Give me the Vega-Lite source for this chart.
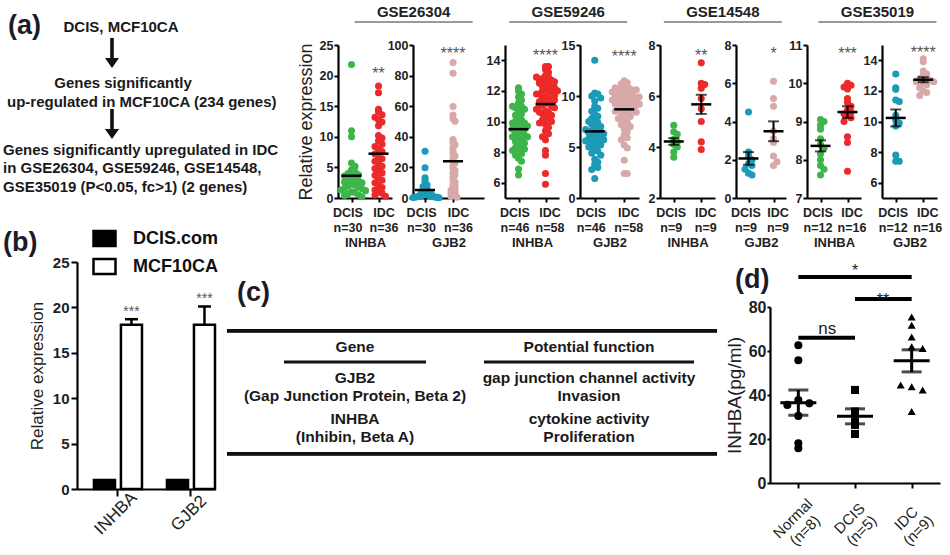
{
"$schema": "https://vega.github.io/schema/vega-lite/v6.json",
"padding": {"left": 3, "top": 2, "right": 2, "bottom": 2},
"background": "white",
"spacing": -24,
"resolve": {"scale": {"color": "independent", "xOffset": "independent", "shape": "independent", "fill": "independent"}},
"datasets": {
"s1": [
{"g":"DCIS","v":21.8},{"g":"DCIS","v":11.0},{"g":"DCIS","v":10.0},{"g":"DCIS","v":5.7},{"g":"DCIS","v":5.2},{"g":"DCIS","v":4.6},{"g":"DCIS","v":4.3},{"g":"DCIS","v":4.0},{"g":"DCIS","v":3.8},{"g":"DCIS","v":3.6},
{"g":"DCIS","v":3.4},{"g":"DCIS","v":3.2},{"g":"DCIS","v":3.0},{"g":"DCIS","v":2.8},{"g":"DCIS","v":2.6},{"g":"DCIS","v":2.5},{"g":"DCIS","v":2.3},{"g":"DCIS","v":2.1},{"g":"DCIS","v":2.0},{"g":"DCIS","v":1.8},
{"g":"DCIS","v":1.6},{"g":"DCIS","v":1.5},{"g":"DCIS","v":1.3},{"g":"DCIS","v":1.2},{"g":"DCIS","v":1.0},{"g":"DCIS","v":0.9},{"g":"DCIS","v":0.7},{"g":"DCIS","v":0.5},{"g":"DCIS","v":0.4},{"g":"DCIS","v":0.2},
{"g":"IDC","v":18.3},{"g":"IDC","v":17.2},{"g":"IDC","v":14.5},{"g":"IDC","v":14.1},{"g":"IDC","v":13.6},{"g":"IDC","v":13.2},{"g":"IDC","v":12.8},{"g":"IDC","v":12.4},{"g":"IDC","v":11.8},{"g":"IDC","v":10.2},
{"g":"IDC","v":9.8},{"g":"IDC","v":9.3},{"g":"IDC","v":8.8},{"g":"IDC","v":8.4},{"g":"IDC","v":8.0},{"g":"IDC","v":7.6},{"g":"IDC","v":7.2},{"g":"IDC","v":6.8},{"g":"IDC","v":6.4},{"g":"IDC","v":6.0},
{"g":"IDC","v":5.6},{"g":"IDC","v":5.2},{"g":"IDC","v":4.8},{"g":"IDC","v":4.5},{"g":"IDC","v":4.1},{"g":"IDC","v":3.7},{"g":"IDC","v":3.3},{"g":"IDC","v":2.9},{"g":"IDC","v":2.5},{"g":"IDC","v":2.1},
{"g":"IDC","v":1.7},{"g":"IDC","v":1.3},{"g":"IDC","v":1.0},{"g":"IDC","v":0.8},{"g":"IDC","v":0.5},{"g":"IDC","v":0.3}
],
"s2": [
{"g":"DCIS","v":30.5},{"g":"DCIS","v":19.8},{"g":"DCIS","v":13.2},{"g":"DCIS","v":11.5},{"g":"DCIS","v":9.8},{"g":"DCIS","v":8.5},{"g":"DCIS","v":7.5},{"g":"DCIS","v":6.8},{"g":"DCIS","v":6.0},{"g":"DCIS","v":5.4},
{"g":"DCIS","v":4.8},{"g":"DCIS","v":4.2},{"g":"DCIS","v":3.8},{"g":"DCIS","v":3.4},{"g":"DCIS","v":3.0},{"g":"DCIS","v":2.7},{"g":"DCIS","v":2.4},{"g":"DCIS","v":2.1},{"g":"DCIS","v":1.9},{"g":"DCIS","v":1.7},
{"g":"DCIS","v":1.5},{"g":"DCIS","v":1.3},{"g":"DCIS","v":1.1},{"g":"DCIS","v":0.9},{"g":"DCIS","v":0.8},{"g":"DCIS","v":0.6},{"g":"DCIS","v":0.5},{"g":"DCIS","v":0.4},{"g":"DCIS","v":0.3},{"g":"DCIS","v":0.2},
{"g":"IDC","v":88.5},{"g":"IDC","v":81.5},{"g":"IDC","v":59.8},{"g":"IDC","v":54.3},{"g":"IDC","v":51.8},{"g":"IDC","v":50.2},{"g":"IDC","v":38.2},{"g":"IDC","v":36.5},{"g":"IDC","v":35.0},{"g":"IDC","v":33.2},
{"g":"IDC","v":31.0},{"g":"IDC","v":29.0},{"g":"IDC","v":27.5},{"g":"IDC","v":26.0},{"g":"IDC","v":24.5},{"g":"IDC","v":22.8},{"g":"IDC","v":21.0},{"g":"IDC","v":19.5},{"g":"IDC","v":18.0},{"g":"IDC","v":16.5},
{"g":"IDC","v":15.0},{"g":"IDC","v":13.5},{"g":"IDC","v":12.0},{"g":"IDC","v":10.5},{"g":"IDC","v":9.0},{"g":"IDC","v":8.0},{"g":"IDC","v":7.0},{"g":"IDC","v":6.0},{"g":"IDC","v":5.0},{"g":"IDC","v":4.2},
{"g":"IDC","v":3.5},{"g":"IDC","v":2.8},{"g":"IDC","v":2.2},{"g":"IDC","v":1.6},{"g":"IDC","v":1.0},{"g":"IDC","v":0.5}
],
"s3": [
{"g":"DCIS","v":12.2},{"g":"DCIS","v":12.0},{"g":"DCIS","v":11.8},{"g":"DCIS","v":11.6},{"g":"DCIS","v":11.4},{"g":"DCIS","v":11.2},{"g":"DCIS","v":11.0},{"g":"DCIS","v":10.9},{"g":"DCIS","v":10.7},{"g":"DCIS","v":10.5},
{"g":"DCIS","v":10.4},{"g":"DCIS","v":10.2},{"g":"DCIS","v":10.1},{"g":"DCIS","v":10.0},{"g":"DCIS","v":9.9},{"g":"DCIS","v":9.8},{"g":"DCIS","v":9.7},{"g":"DCIS","v":9.6},{"g":"DCIS","v":9.5},{"g":"DCIS","v":9.5},
{"g":"DCIS","v":9.4},{"g":"DCIS","v":9.3},{"g":"DCIS","v":9.2},{"g":"DCIS","v":9.1},{"g":"DCIS","v":9.0},{"g":"DCIS","v":9.0},{"g":"DCIS","v":8.9},{"g":"DCIS","v":8.8},{"g":"DCIS","v":8.7},{"g":"DCIS","v":8.6},
{"g":"DCIS","v":8.5},{"g":"DCIS","v":8.4},{"g":"DCIS","v":8.3},{"g":"DCIS","v":8.2},{"g":"DCIS","v":8.1},{"g":"DCIS","v":8.0},{"g":"DCIS","v":7.9},{"g":"DCIS","v":7.8},{"g":"DCIS","v":7.6},{"g":"DCIS","v":7.4},
{"g":"DCIS","v":9.7},{"g":"DCIS","v":9.9},{"g":"DCIS","v":6.9},{"g":"DCIS","v":10.8},{"g":"DCIS","v":11.0},{"g":"DCIS","v":6.5},
{"g":"IDC","v":13.6},{"g":"IDC","v":13.6},{"g":"IDC","v":13.4},{"g":"IDC","v":13.2},{"g":"IDC","v":13.0},{"g":"IDC","v":12.9},{"g":"IDC","v":12.8},{"g":"IDC","v":12.7},{"g":"IDC","v":12.6},{"g":"IDC","v":12.5},
{"g":"IDC","v":12.4},{"g":"IDC","v":12.3},{"g":"IDC","v":12.2},{"g":"IDC","v":12.1},{"g":"IDC","v":12.0},{"g":"IDC","v":12.0},{"g":"IDC","v":11.9},{"g":"IDC","v":11.8},{"g":"IDC","v":11.7},{"g":"IDC","v":11.6},
{"g":"IDC","v":11.5},{"g":"IDC","v":11.5},{"g":"IDC","v":11.4},{"g":"IDC","v":11.3},{"g":"IDC","v":11.2},{"g":"IDC","v":11.2},{"g":"IDC","v":11.1},{"g":"IDC","v":11.0},{"g":"IDC","v":11.0},{"g":"IDC","v":10.9},
{"g":"IDC","v":10.8},{"g":"IDC","v":10.7},{"g":"IDC","v":10.6},{"g":"IDC","v":10.5},{"g":"IDC","v":10.4},{"g":"IDC","v":10.3},{"g":"IDC","v":10.2},{"g":"IDC","v":10.1},{"g":"IDC","v":10.0},{"g":"IDC","v":9.9},
{"g":"IDC","v":9.8},{"g":"IDC","v":9.6},{"g":"IDC","v":9.4},{"g":"IDC","v":9.2},{"g":"IDC","v":9.0},{"g":"IDC","v":8.8},{"g":"IDC","v":8.1},{"g":"IDC","v":7.8},{"g":"IDC","v":6.6},{"g":"IDC","v":5.9},
{"g":"IDC","v":12.5},{"g":"IDC","v":12.2},{"g":"IDC","v":11.8},{"g":"IDC","v":11.4},{"g":"IDC","v":10.6},{"g":"IDC","v":12.6},{"g":"IDC","v":12.0},{"g":"IDC","v":12.9}
],
"s4": [
{"g":"DCIS","v":13.5},{"g":"DCIS","v":10.3},{"g":"DCIS","v":10.2},{"g":"DCIS","v":10.0},{"g":"DCIS","v":9.8},{"g":"DCIS","v":9.5},{"g":"DCIS","v":9.0},{"g":"DCIS","v":8.8},{"g":"DCIS","v":8.5},{"g":"DCIS","v":8.2},
{"g":"DCIS","v":8.0},{"g":"DCIS","v":7.8},{"g":"DCIS","v":7.6},{"g":"DCIS","v":7.4},{"g":"DCIS","v":7.2},{"g":"DCIS","v":7.0},{"g":"DCIS","v":6.9},{"g":"DCIS","v":6.8},{"g":"DCIS","v":6.6},{"g":"DCIS","v":6.5},
{"g":"DCIS","v":6.4},{"g":"DCIS","v":6.3},{"g":"DCIS","v":6.2},{"g":"DCIS","v":6.1},{"g":"DCIS","v":6.0},{"g":"DCIS","v":5.9},{"g":"DCIS","v":5.8},{"g":"DCIS","v":5.7},{"g":"DCIS","v":5.6},{"g":"DCIS","v":5.5},
{"g":"DCIS","v":5.4},{"g":"DCIS","v":5.3},{"g":"DCIS","v":5.2},{"g":"DCIS","v":5.0},{"g":"DCIS","v":4.8},{"g":"DCIS","v":4.6},{"g":"DCIS","v":4.4},{"g":"DCIS","v":4.2},{"g":"DCIS","v":3.8},{"g":"DCIS","v":3.5},
{"g":"DCIS","v":3.3},{"g":"DCIS","v":3.0},{"g":"DCIS","v":2.8},{"g":"DCIS","v":1.9},{"g":"DCIS","v":7.5},{"g":"DCIS","v":6.7},
{"g":"IDC","v":11.5},{"g":"IDC","v":11.3},{"g":"IDC","v":11.2},{"g":"IDC","v":11.0},{"g":"IDC","v":10.9},{"g":"IDC","v":10.8},{"g":"IDC","v":10.7},{"g":"IDC","v":10.6},{"g":"IDC","v":10.5},{"g":"IDC","v":10.4},
{"g":"IDC","v":10.3},{"g":"IDC","v":10.2},{"g":"IDC","v":10.1},{"g":"IDC","v":10.0},{"g":"IDC","v":10.0},{"g":"IDC","v":9.9},{"g":"IDC","v":9.8},{"g":"IDC","v":9.7},{"g":"IDC","v":9.6},{"g":"IDC","v":9.5},
{"g":"IDC","v":9.4},{"g":"IDC","v":9.4},{"g":"IDC","v":9.3},{"g":"IDC","v":9.2},{"g":"IDC","v":9.1},{"g":"IDC","v":9.0},{"g":"IDC","v":9.0},{"g":"IDC","v":8.9},{"g":"IDC","v":8.8},{"g":"IDC","v":8.7},
{"g":"IDC","v":8.6},{"g":"IDC","v":8.5},{"g":"IDC","v":8.4},{"g":"IDC","v":8.3},{"g":"IDC","v":8.2},{"g":"IDC","v":8.1},{"g":"IDC","v":8.0},{"g":"IDC","v":7.8},{"g":"IDC","v":7.6},{"g":"IDC","v":7.4},
{"g":"IDC","v":7.2},{"g":"IDC","v":7.0},{"g":"IDC","v":6.8},{"g":"IDC","v":6.5},{"g":"IDC","v":6.2},{"g":"IDC","v":5.9},{"g":"IDC","v":5.7},{"g":"IDC","v":5.2},{"g":"IDC","v":4.9},{"g":"IDC","v":3.7},
{"g":"IDC","v":2.4},{"g":"IDC","v":2.4},{"g":"IDC","v":10.8},{"g":"IDC","v":10.4},{"g":"IDC","v":9.9},{"g":"IDC","v":9.6},{"g":"IDC","v":9.2},{"g":"IDC","v":10.6}
],
"s5": [
{"g":"DCIS","v":4.85},{"g":"DCIS","v":4.6},{"g":"DCIS","v":4.5},{"g":"DCIS","v":4.3},{"g":"DCIS","v":4.2},{"g":"DCIS","v":4.1},{"g":"DCIS","v":4.0},{"g":"DCIS","v":3.8},{"g":"DCIS","v":3.6},
{"g":"IDC","v":7.3},{"g":"IDC","v":6.5},{"g":"IDC","v":6.45},{"g":"IDC","v":6.3},{"g":"IDC","v":5.9},{"g":"IDC","v":5.5},{"g":"IDC","v":5.0},{"g":"IDC","v":4.2},{"g":"IDC","v":3.9}
],
"s6": [
{"g":"DCIS","v":4.5},{"g":"DCIS","v":2.4},{"g":"DCIS","v":2.2},{"g":"DCIS","v":2.0},{"g":"DCIS","v":1.8},{"g":"DCIS","v":1.7},{"g":"DCIS","v":1.5},{"g":"DCIS","v":1.3},{"g":"DCIS","v":1.2},
{"g":"IDC","v":6.1},{"g":"IDC","v":5.2},{"g":"IDC","v":4.8},{"g":"IDC","v":3.5},{"g":"IDC","v":3.1},{"g":"IDC","v":2.9},{"g":"IDC","v":2.2},{"g":"IDC","v":1.9},{"g":"IDC","v":1.7}
],
"s7": [
{"g":"DCIS","v":9.05},{"g":"DCIS","v":9.0},{"g":"DCIS","v":8.9},{"g":"DCIS","v":8.8},{"g":"DCIS","v":8.55},{"g":"DCIS","v":8.4},{"g":"DCIS","v":8.3},{"g":"DCIS","v":8.15},{"g":"DCIS","v":8.0},{"g":"DCIS","v":7.85},{"g":"DCIS","v":7.75},{"g":"DCIS","v":7.6},
{"g":"IDC","v":10.0},{"g":"IDC","v":9.95},{"g":"IDC","v":9.9},{"g":"IDC","v":9.85},{"g":"IDC","v":9.6},{"g":"IDC","v":9.5},{"g":"IDC","v":9.4},{"g":"IDC","v":9.3},{"g":"IDC","v":9.25},{"g":"IDC","v":9.2},{"g":"IDC","v":9.15},{"g":"IDC","v":9.1},{"g":"IDC","v":9.0},{"g":"IDC","v":8.6},{"g":"IDC","v":8.45},{"g":"IDC","v":7.7}
],
"s8": [
{"g":"DCIS","v":13.1},{"g":"DCIS","v":12.2},{"g":"DCIS","v":12.1},{"g":"DCIS","v":11.4},{"g":"DCIS","v":11.3},{"g":"DCIS","v":10.4},{"g":"DCIS","v":10.1},{"g":"DCIS","v":9.9},{"g":"DCIS","v":9.7},{"g":"DCIS","v":7.8},{"g":"DCIS","v":7.4},{"g":"DCIS","v":7.4},
{"g":"IDC","v":14.1},{"g":"IDC","v":13.9},{"g":"IDC","v":13.3},{"g":"IDC","v":13.1},{"g":"IDC","v":13.0},{"g":"IDC","v":12.9},{"g":"IDC","v":12.8},{"g":"IDC","v":12.7},{"g":"IDC","v":12.6},{"g":"IDC","v":12.6},{"g":"IDC","v":12.5},{"g":"IDC","v":12.4},{"g":"IDC","v":12.2},{"g":"IDC","v":12.0},{"g":"IDC","v":11.9},{"g":"IDC","v":11.7}
],
"sig": [
{"p":"s1","g":"IDC","s":"**"},{"p":"s2","g":"IDC","s":"****"},{"p":"s3","g":"IDC","s":"****"},{"p":"s4","g":"IDC","s":"****"},
{"p":"s5","g":"IDC","s":"**"},{"p":"s6","g":"IDC","s":"*"},{"p":"s7","g":"IDC","s":"***"},{"p":"s8","g":"IDC","s":"****"}
],
"d": [
{"c":"Normal","v":62.6},{"c":"Normal","v":55.8},{"c":"Normal","v":37.7},{"c":"Normal","v":36.2},{"c":"Normal","v":35.5},{"c":"Normal","v":30.5},{"c":"Normal","v":18.1},{"c":"Normal","v":15.8},
{"c":"DCIS","v":42.3},{"c":"DCIS","v":32.5},{"c":"DCIS","v":28.0},{"c":"DCIS","v":26.4},{"c":"DCIS","v":22.3},
{"c":"IDC","v":75.5},{"c":"IDC","v":71.7},{"c":"IDC","v":66.4},{"c":"IDC","v":61.9},{"c":"IDC","v":61.1},{"c":"IDC","v":43.8},{"c":"IDC","v":42.3},{"c":"IDC","v":44.5},{"c":"IDC","v":32.5}
],
"dsig": [
{"a":"Normal","b":"DCIS","lvl":66,"lab":"ns"},
{"a":"DCIS","b":"IDC","lvl":83.6,"lab":"**"},
{"a":"Normal","b":"IDC","lvl":93.6,"lab":"*"}
]
},
"vconcat": [
{
"bounds": "flush", "spacing": 191,
"resolve": {"scale": {"color": "independent", "xOffset": "independent", "shape": "independent", "fill": "independent"}},
"hconcat": [
{
"width": 70, "height": 173,
"data": {"values": [
{"step": 1, "kind": "p", "t": "(a)"},
{"step": 1, "kind": "c1", "t": "DCIS, MCF10CA"},
{"step": 1.5, "kind": "arr", "t": ""},
{"step": 2, "kind": "c2", "t": "Genes significantly"},
{"step": 2, "kind": "l2", "t": "up-regulated in MCF10CA (234 genes)"},
{"step": 2.5, "kind": "arr", "t": ""},
{"step": 3, "kind": "l3", "t": "Genes significantly upregulated in IDC\nin GSE26304, GSE59246, GSE14548,\nGSE35019 (P<0.05, fc>1) (2 genes)"}
]},
"encoding": {"y": {"field": "step", "type": "ordinal", "scale": {"type": "point", "padding": 0.437}, "axis": null}},
"layer": [
{"transform": [{"filter": "datum.kind == 'p'"}], "mark": {"type": "text", "align": "left", "dx": -104, "dy": 8.5, "fontSize": 27, "fontWeight": "bold", "color": "#1c1c28"}, "encoding": {"text": {"field": "t"}}},
{"transform": [{"filter": "datum.kind == 'c1'"}], "mark": {"type": "text", "align": "center", "dx": 9, "dy": 9.5, "fontSize": 15, "fontWeight": "bold", "color": "#1a1a1a"}, "encoding": {"text": {"field": "t"}}},
{"transform": [{"filter": "datum.kind == 'c2'"}], "mark": {"type": "text", "align": "center", "dx": 11, "dy": -5.5, "fontSize": 15, "fontWeight": "bold", "color": "#1a1a1a"}, "encoding": {"text": {"field": "t"}}},
{"transform": [{"filter": "datum.kind == 'l2'"}], "mark": {"type": "text", "align": "left", "dx": -105, "dy": 13.5, "fontSize": 15, "fontWeight": "bold", "color": "#1a1a1a"}, "encoding": {"text": {"field": "t"}}},
{"transform": [{"filter": "datum.kind == 'l3'"}], "mark": {"type": "text", "align": "left", "dx": -109, "dy": -9.5, "fontSize": 15, "fontWeight": "bold", "lineBreak": "\n", "lineHeight": 18.5, "color": "#1a1a1a"}, "encoding": {"text": {"field": "t"}}},
{"transform": [{"filter": "datum.kind == 'arr'"}], "mark": {"type": "point", "filled": true, "opacity": 1, "color": "#111", "size": 900, "shape": "M-0.12,-1H0.12V0.33H0.47L0,1L-0.47,0.33H-0.12Z"}}
]
},
{
"bounds": "flush", "spacing": 23,
"resolve": {"scale": {"color": "independent", "xOffset": "independent"}},
"vconcat": [
{
"width": 598.4, "height": 20,
"data": {"values": [{"gse": "GSE26304"}, {"gse": "GSE59246"}, {"gse": "GSE14548"}, {"gse": "GSE35019"}]},
"encoding": {"x": {"field": "gse", "type": "nominal", "sort": null, "scale": {"paddingInner": 0.237, "paddingOuter": 0.0538, "align": 1}, "axis": null}},
"layer": [
{"mark": {"type": "text", "fontSize": 15, "fontWeight": "bold", "color": "#222"}, "encoding": {"text": {"field": "gse"}}},
{"mark": {"type": "tick", "orient": "horizontal", "size": 118, "thickness": 1.5, "opacity": 1, "color": "#777"}, "encoding": {"y": {"datum": 0, "type": "quantitative", "scale": {"domain": [0, 1]}, "axis": null}}}
]
},
{
"bounds": "flush", "spacing": 21,
"resolve": {"scale": {"color": "independent", "xOffset": "independent"}},
"hconcat": [
{
"width": 54, "height": 153, "data": {"name": "s1"},
"encoding": {"x": {"field": "g", "type": "nominal", "scale": {"type": "point", "domain": ["DCIS", "IDC"], "padding": 0.5}, "axis": {"title": "INHBA", "labelAngle": 0, "labelPadding": 4, "labelOffset": {"condition": {"test": "datum.value == 'DCIS'", "value": -4}, "value": 5}, "labelExpr": "[datum.label, datum.label == 'DCIS' ? 'n=30' : 'n=36']"}}},
"layer": [
{"transform": [{"bin": {"step": 1.2}, "field": "v", "as": "b"}, {"window": [{"op": "row_number", "as": "k"}], "groupby": ["g", "b"]}],
"mark": {"type": "circle", "size": 50, "opacity": 1},
"encoding": {
"y": {"field": "v", "type": "quantitative", "title": "Relative expression", "scale": {"domain": [0, 25], "nice": false, "zero": false}, "axis": {"values": [0, 5, 10, 15, 20, 25], "labelOverlap": false, "titleFontSize": 18, "titleFontWeight": "normal", "titlePadding": 4}},
"xOffset": {"field": "k", "type": "ordinal", "scale": {"type": "point", "padding": 0, "domain": [21,19,17,15,13,11,9,7,5,3,1,2,4,6,8,10,12,14,16,18,20], "range": [-35, 35]}},
"color": {"field": "g", "type": "nominal", "scale": {"domain": ["DCIS", "IDC"], "range": ["#3db54a", "#ec2a2a"]}, "legend": null}}},
{"mark": {"type": "tick", "size": 20, "thickness": 2.5, "opacity": 1, "color": "#000"}, "encoding": {"y": {"aggregate": "mean", "field": "v", "type": "quantitative", "title": "Relative expression", "axis": {"values": [0, 5, 10, 15, 20, 25], "labelOverlap": false, "titleFontSize": 18, "titleFontWeight": "normal", "titlePadding": 4}}}},
{"data": {"name": "sig"}, "transform": [{"filter": "datum.p == 's1'"}], "mark": {"type": "text", "fontSize": 16, "color": "#555", "dy": 4}, "encoding": {"y": {"datum": 20.9, "type": "quantitative", "title": "Relative expression", "axis": {"values": [0, 5, 10, 15, 20, 25], "labelOverlap": false, "titleFontSize": 18, "titleFontWeight": "normal", "titlePadding": 4}}, "text": {"field": "s"}}}
]
},
{
"width": 71, "height": 153, "data": {"name": "s2"},
"encoding": {"x": {"field": "g", "type": "nominal", "scale": {"type": "point", "domain": ["DCIS", "IDC"], "padding": 0.768, "align": 0.28}, "axis": {"title": "GJB2", "labelAngle": 0, "labelPadding": 4, "labelOffset": {"condition": {"test": "datum.value == 'DCIS'", "value": -4}, "value": 5}, "labelExpr": "[datum.label, datum.label == 'DCIS' ? 'n=30' : 'n=36']"}}},
"layer": [
{"transform": [{"bin": {"step": 2.5}, "field": "v", "as": "b"}, {"window": [{"op": "row_number", "as": "k"}], "groupby": ["g", "b"]}],
"mark": {"type": "circle", "size": 50, "opacity": 1},
"encoding": {
"y": {"field": "v", "type": "quantitative", "title": null, "scale": {"domain": [0, 100], "nice": false, "zero": false}, "axis": {"values": [0, 20, 40, 60, 80, 100], "labelOverlap": false}},
"xOffset": {"field": "k", "type": "ordinal", "scale": {"type": "point", "padding": 0, "domain": [21,19,17,15,13,11,9,7,5,3,1,2,4,6,8,10,12,14,16,18,20], "range": [-20, 20]}},
"color": {"field": "g", "type": "nominal", "scale": {"domain": ["DCIS", "IDC"], "range": ["#1c9ab6", "#d8a9a9"]}, "legend": null}}},
{"mark": {"type": "tick", "size": 20, "thickness": 2.5, "opacity": 1, "color": "#000"}, "encoding": {"y": {"aggregate": "mean", "field": "v", "type": "quantitative", "title": null, "axis": {"values": [0, 20, 40, 60, 80, 100], "labelOverlap": false}}}},
{"data": {"name": "sig"}, "transform": [{"filter": "datum.p == 's2'"}], "mark": {"type": "text", "fontSize": 16, "color": "#555", "dy": 4}, "encoding": {"y": {"datum": 96.7, "type": "quantitative", "title": null, "axis": {"values": [0, 20, 40, 60, 80, 100], "labelOverlap": false}}, "text": {"field": "s"}}}
]
},
{
"width": 54, "height": 153, "data": {"name": "s3"},
"encoding": {"x": {"field": "g", "type": "nominal", "scale": {"type": "point", "domain": ["DCIS", "IDC"], "padding": 0.5}, "axis": {"title": "INHBA", "labelAngle": 0, "labelPadding": 4, "labelOffset": {"condition": {"test": "datum.value == 'DCIS'", "value": -4}, "value": 4}, "labelExpr": "[datum.label, datum.label == 'DCIS' ? 'n=46' : 'n=58']"}}},
"layer": [
{"transform": [{"bin": {"step": 0.45}, "field": "v", "as": "b"}, {"window": [{"op": "row_number", "as": "k"}], "groupby": ["g", "b"]}],
"mark": {"type": "circle", "size": 50, "opacity": 1},
"encoding": {
"y": {"field": "v", "type": "quantitative", "title": null, "scale": {"domain": [5, 15], "nice": false, "zero": false}, "axis": {"values": [6, 8, 10, 12, 14], "labelOverlap": false}},
"xOffset": {"field": "k", "type": "ordinal", "scale": {"type": "point", "padding": 0, "domain": [21,19,17,15,13,11,9,7,5,3,1,2,4,6,8,10,12,14,16,18,20], "range": [-30, 30]}},
"color": {"field": "g", "type": "nominal", "scale": {"domain": ["DCIS", "IDC"], "range": ["#3db54a", "#ec2a2a"]}, "legend": null}}},
{"mark": {"type": "tick", "size": 20, "thickness": 2.5, "opacity": 1, "color": "#000"}, "encoding": {"y": {"aggregate": "mean", "field": "v", "type": "quantitative", "title": null, "axis": {"values": [6, 8, 10, 12, 14], "labelOverlap": false}}}},
{"data": {"name": "sig"}, "transform": [{"filter": "datum.p == 's3'"}], "mark": {"type": "text", "fontSize": 16, "color": "#555", "dy": 4}, "encoding": {"y": {"datum": 14.54, "type": "quantitative", "title": null, "axis": {"values": [6, 8, 10, 12, 14], "labelOverlap": false}}, "text": {"field": "s"}}}
]
},
{
"width": 59, "height": 153, "data": {"name": "s4"},
"encoding": {"x": {"field": "g", "type": "nominal", "scale": {"type": "point", "domain": ["DCIS", "IDC"], "padding": 0.5}, "axis": {"title": "GJB2", "labelAngle": 0, "labelPadding": 4, "labelOffset": {"condition": {"test": "datum.value == 'DCIS'", "value": -4}, "value": 4}, "labelExpr": "[datum.label, datum.label == 'DCIS' ? 'n=46' : 'n=58']"}}},
"layer": [
{"transform": [{"bin": {"step": 0.7}, "field": "v", "as": "b"}, {"window": [{"op": "row_number", "as": "k"}], "groupby": ["g", "b"]}],
"mark": {"type": "circle", "size": 50, "opacity": 1},
"encoding": {
"y": {"field": "v", "type": "quantitative", "title": null, "scale": {"domain": [0, 15], "nice": false, "zero": false}, "axis": {"values": [0, 5, 10, 15], "labelOverlap": false}},
"xOffset": {"field": "k", "type": "ordinal", "scale": {"type": "point", "padding": 0, "domain": [21,19,17,15,13,11,9,7,5,3,1,2,4,6,8,10,12,14,16,18,20], "range": [-30, 30]}},
"color": {"field": "g", "type": "nominal", "scale": {"domain": ["DCIS", "IDC"], "range": ["#1c9ab6", "#d8a9a9"]}, "legend": null}}},
{"mark": {"type": "tick", "size": 20, "thickness": 2.5, "opacity": 1, "color": "#000"}, "encoding": {"y": {"aggregate": "mean", "field": "v", "type": "quantitative", "title": null, "axis": {"values": [0, 5, 10, 15], "labelOverlap": false}}}},
{"data": {"name": "sig"}, "transform": [{"filter": "datum.p == 's4'"}], "mark": {"type": "text", "fontSize": 16, "color": "#555", "dy": 4}, "encoding": {"y": {"datum": 14.2, "type": "quantitative", "title": null, "axis": {"values": [0, 5, 10, 15], "labelOverlap": false}}, "text": {"field": "s"}}}
]
},
{
"width": 55, "height": 153, "data": {"name": "s5"},
"encoding": {"x": {"field": "g", "type": "nominal", "scale": {"type": "point", "domain": ["DCIS", "IDC"], "padding": 0.5}, "axis": {"title": "INHBA", "labelAngle": 0, "labelPadding": 4, "labelOffset": {"condition": {"test": "datum.value == 'DCIS'", "value": -3}, "value": 4}, "labelExpr": "[datum.label, 'n=9']"}}},
"layer": [
{"transform": [{"bin": {"step": 0.28}, "field": "v", "as": "b"}, {"window": [{"op": "row_number", "as": "k"}], "groupby": ["g", "b"]}],
"mark": {"type": "circle", "size": 50, "opacity": 1},
"encoding": {
"y": {"field": "v", "type": "quantitative", "title": null, "scale": {"domain": [2, 8], "nice": false, "zero": false}, "axis": {"values": [2, 4, 6, 8], "labelOverlap": false}},
"xOffset": {"field": "k", "type": "ordinal", "scale": {"type": "point", "padding": 0, "domain": [21,19,17,15,13,11,9,7,5,3,1,2,4,6,8,10,12,14,16,18,20], "range": [-35, 35]}},
"color": {"field": "g", "type": "nominal", "scale": {"domain": ["DCIS", "IDC"], "range": ["#3db54a", "#ec2a2a"]}, "legend": null}}},
{"mark": {"type": "tick", "size": 20, "thickness": 2.5, "opacity": 1, "color": "#000"}, "encoding": {"y": {"aggregate": "mean", "field": "v", "type": "quantitative", "title": null, "axis": {"values": [2, 4, 6, 8], "labelOverlap": false}}}},
{"mark": {"type": "errorbar", "extent": "stderr", "ticks": {"size": 11}, "thickness": 2, "color": "#000"}, "encoding": {"y": {"field": "v", "type": "quantitative", "title": null, "axis": {"values": [2, 4, 6, 8], "labelOverlap": false}}}},
{"data": {"name": "sig"}, "transform": [{"filter": "datum.p == 's5'"}], "mark": {"type": "text", "fontSize": 16, "color": "#555", "dy": 4}, "encoding": {"y": {"datum": 7.73, "type": "quantitative", "title": null, "axis": {"values": [2, 4, 6, 8], "labelOverlap": false}}, "text": {"field": "s"}}}
]
},
{
"width": 50, "height": 153, "data": {"name": "s6"},
"encoding": {"x": {"field": "g", "type": "nominal", "scale": {"type": "point", "domain": ["DCIS", "IDC"], "padding": 0.5}, "axis": {"title": "GJB2", "labelAngle": 0, "labelPadding": 4, "labelOffset": {"condition": {"test": "datum.value == 'DCIS'", "value": -3}, "value": 4}, "labelExpr": "[datum.label, 'n=9']"}}},
"layer": [
{"transform": [{"bin": {"step": 0.37}, "field": "v", "as": "b"}, {"window": [{"op": "row_number", "as": "k"}], "groupby": ["g", "b"]}],
"mark": {"type": "circle", "size": 50, "opacity": 1},
"encoding": {
"y": {"field": "v", "type": "quantitative", "title": null, "scale": {"domain": [0, 8], "nice": false, "zero": false}, "axis": {"values": [0, 2, 4, 6, 8], "labelOverlap": false}},
"xOffset": {"field": "k", "type": "ordinal", "scale": {"type": "point", "padding": 0, "domain": [21,19,17,15,13,11,9,7,5,3,1,2,4,6,8,10,12,14,16,18,20], "range": [-35, 35]}},
"color": {"field": "g", "type": "nominal", "scale": {"domain": ["DCIS", "IDC"], "range": ["#1c9ab6", "#d8a9a9"]}, "legend": null}}},
{"mark": {"type": "tick", "size": 20, "thickness": 2.5, "opacity": 1, "color": "#000"}, "encoding": {"y": {"aggregate": "mean", "field": "v", "type": "quantitative", "title": null, "axis": {"values": [0, 2, 4, 6, 8], "labelOverlap": false}}}},
{"mark": {"type": "errorbar", "extent": "stderr", "ticks": {"size": 11}, "thickness": 2, "color": "#000"}, "encoding": {"y": {"field": "v", "type": "quantitative", "title": null, "axis": {"values": [0, 2, 4, 6, 8], "labelOverlap": false}}}},
{"data": {"name": "sig"}, "transform": [{"filter": "datum.p == 's6'"}], "mark": {"type": "text", "fontSize": 16, "color": "#555", "dy": 4}, "encoding": {"y": {"datum": 7.74, "type": "quantitative", "title": null, "axis": {"values": [0, 2, 4, 6, 8], "labelOverlap": false}}, "text": {"field": "s"}}}
]
},
{
"width": 54, "height": 153, "data": {"name": "s7"},
"encoding": {"x": {"field": "g", "type": "nominal", "scale": {"type": "point", "domain": ["DCIS", "IDC"], "padding": 0.5}, "axis": {"title": "INHBA", "labelAngle": 0, "labelPadding": 4, "labelOffset": {"condition": {"test": "datum.value == 'DCIS'", "value": -3}, "value": 4}, "labelExpr": "[datum.label, datum.label == 'DCIS' ? 'n=12' : 'n=16']"}}},
"layer": [
{"transform": [{"bin": {"step": 0.18}, "field": "v", "as": "b"}, {"window": [{"op": "row_number", "as": "k"}], "groupby": ["g", "b"]}],
"mark": {"type": "circle", "size": 50, "opacity": 1},
"encoding": {
"y": {"field": "v", "type": "quantitative", "title": null, "scale": {"domain": [7, 11], "nice": false, "zero": false}, "axis": {"values": [7, 8, 9, 10, 11], "labelOverlap": false}},
"xOffset": {"field": "k", "type": "ordinal", "scale": {"type": "point", "padding": 0, "domain": [21,19,17,15,13,11,9,7,5,3,1,2,4,6,8,10,12,14,16,18,20], "range": [-35, 35]}},
"color": {"field": "g", "type": "nominal", "scale": {"domain": ["DCIS", "IDC"], "range": ["#3db54a", "#ec2a2a"]}, "legend": null}}},
{"mark": {"type": "tick", "size": 20, "thickness": 2.5, "opacity": 1, "color": "#000"}, "encoding": {"y": {"aggregate": "mean", "field": "v", "type": "quantitative", "title": null, "axis": {"values": [7, 8, 9, 10, 11], "labelOverlap": false}}}},
{"mark": {"type": "errorbar", "extent": "stderr", "ticks": {"size": 11}, "thickness": 2, "color": "#000"}, "encoding": {"y": {"field": "v", "type": "quantitative", "title": null, "axis": {"values": [7, 8, 9, 10, 11], "labelOverlap": false}}}},
{"data": {"name": "sig"}, "transform": [{"filter": "datum.p == 's7'"}], "mark": {"type": "text", "fontSize": 16, "color": "#555", "dy": 4}, "encoding": {"y": {"datum": 10.87, "type": "quantitative", "title": null, "axis": {"values": [7, 8, 9, 10, 11], "labelOverlap": false}}, "text": {"field": "s"}}}
]
},
{
"width": 55, "height": 153, "data": {"name": "s8"},
"encoding": {"x": {"field": "g", "type": "nominal", "scale": {"type": "point", "domain": ["DCIS", "IDC"], "padding": 0.5}, "axis": {"title": "GJB2", "labelAngle": 0, "labelPadding": 4, "labelOffset": {"condition": {"test": "datum.value == 'DCIS'", "value": -3}, "value": 4}, "labelExpr": "[datum.label, datum.label == 'DCIS' ? 'n=12' : 'n=16']"}}},
"layer": [
{"transform": [{"bin": {"step": 0.45}, "field": "v", "as": "b"}, {"window": [{"op": "row_number", "as": "k"}], "groupby": ["g", "b"]}],
"mark": {"type": "circle", "size": 50, "opacity": 1},
"encoding": {
"y": {"field": "v", "type": "quantitative", "title": null, "scale": {"domain": [5, 15], "nice": false, "zero": false}, "axis": {"values": [6, 8, 10, 12, 14], "labelOverlap": false}},
"xOffset": {"field": "k", "type": "ordinal", "scale": {"type": "point", "padding": 0, "domain": [21,19,17,15,13,11,9,7,5,3,1,2,4,6,8,10,12,14,16,18,20], "range": [-35, 35]}},
"color": {"field": "g", "type": "nominal", "scale": {"domain": ["DCIS", "IDC"], "range": ["#1c9ab6", "#d8a9a9"]}, "legend": null}}},
{"mark": {"type": "tick", "size": 20, "thickness": 2.5, "opacity": 1, "color": "#000"}, "encoding": {"y": {"aggregate": "mean", "field": "v", "type": "quantitative", "title": null, "axis": {"values": [6, 8, 10, 12, 14], "labelOverlap": false}}}},
{"mark": {"type": "errorbar", "extent": "stderr", "ticks": {"size": 11}, "thickness": 2, "color": "#000"}, "encoding": {"y": {"field": "v", "type": "quantitative", "title": null, "axis": {"values": [6, 8, 10, 12, 14], "labelOverlap": false}}}},
{"data": {"name": "sig"}, "transform": [{"filter": "datum.p == 's8'"}], "mark": {"type": "text", "fontSize": 16, "color": "#555", "dy": 4}, "encoding": {"y": {"datum": 14.74, "type": "quantitative", "title": null, "axis": {"values": [6, 8, 10, 12, 14], "labelOverlap": false}}, "text": {"field": "s"}}}
]
}
]
}
]
}
]
},
{
"bounds": "flush", "spacing": 12,
"resolve": {"scale": {"color": "independent", "xOffset": "independent", "shape": "independent", "fill": "independent"}},
"hconcat": [
{
"width": 138, "height": 227,
"title": {"text": "(b)", "anchor": "start", "frame": "group", "dx": -74, "offset": -31},
"data": {"values": [
{"gene": "INHBA", "cell": "DCIS.com", "v": 1.0},
{"gene": "INHBA", "cell": "MCF10CA", "v": 18.1, "hi": 18.7, "sig": "***"},
{"gene": "GJB2", "cell": "DCIS.com", "v": 1.0},
{"gene": "GJB2", "cell": "MCF10CA", "v": 18.1, "hi": 20.1, "sig": "***"}
]},
"encoding": {
"x": {"field": "gene", "type": "nominal", "sort": ["INHBA", "GJB2"], "scale": {"paddingInner": 0.342, "paddingOuter": 0.116, "align": 1}, "axis": {"title": null, "labelAngle": -45, "labelAlign": "center", "labelBaseline": "middle", "labelFontSize": 17, "labelFontWeight": "normal", "labelOffset": -2, "labelPadding": 17, "tickSize": 7}},
"xOffset": {"field": "cell", "type": "nominal", "sort": ["DCIS.com", "MCF10CA"], "scale": {"paddingInner": 0.22, "paddingOuter": 0}}
},
"layer": [
{"mark": {"type": "bar", "stroke": "#000", "strokeWidth": 2.5},
"encoding": {
"y": {"field": "v", "type": "quantitative", "title": "Relative expression", "scale": {"domain": [0, 25], "nice": false}, "axis": {"values": [0, 5, 10, 15, 20, 25], "labelOverlap": false, "titleFontSize": 17, "titleFontWeight": "normal", "titlePadding": 6, "labelFontSize": 15, "tickSize": 6, "labelPadding": 2}},
"fill": {"field": "cell", "type": "nominal", "scale": {"domain": ["DCIS.com", "MCF10CA"], "range": ["#000000", "#ffffff"]},
"legend": {"orient": "none", "legendX": 15, "legendY": -36, "title": null, "symbolType": "M-1,-0.68H1V0.68H-1Z", "symbolSize": 484, "symbolStrokeColor": "#000", "symbolStrokeWidth": 2.5, "labelFontSize": 18, "labelFontWeight": "bold", "labelColor": "#111", "rowPadding": 3, "labelOffset": 16}}}},
{"transform": [{"filter": "datum.hi"}], "mark": {"type": "rule", "strokeWidth": 2.5, "color": "#000"}, "encoding": {"y": {"field": "v", "type": "quantitative", "title": "Relative expression"}, "y2": {"field": "hi"}}},
{"transform": [{"filter": "datum.hi"}], "mark": {"type": "tick", "size": 13, "thickness": 2.5, "opacity": 1, "color": "#000"}, "encoding": {"y": {"field": "hi", "type": "quantitative", "title": "Relative expression"}}},
{"transform": [{"filter": "datum.hi"}], "mark": {"type": "text", "fontSize": 14, "color": "#555", "baseline": "alphabetic", "dy": -3}, "encoding": {"y": {"field": "hi", "type": "quantitative", "title": "Relative expression"}, "text": {"field": "sig"}}}
]
},
{
"bounds": "flush", "spacing": 53,
"resolve": {"scale": {"color": "independent", "xOffset": "independent", "shape": "independent", "fill": "independent"}},
"hconcat": [
{
"width": 490, "height": 195,
"title": {"text": "(c)", "anchor": "start", "frame": "group", "dx": 10, "offset": -45},
"data": {"values": [
{"col": "Gene", "r": 1, "t": "Gene"},
{"col": "Potential function", "r": 1, "t": "Potential function"},
{"col": "Gene", "r": 2, "t": "GJB2\n(Gap Junction Protein, Beta 2)"},
{"col": "Potential function", "r": 2, "t": "gap junction channel activity\nInvasion"},
{"col": "Gene", "r": 3, "t": "INHBA\n(Inhibin, Beta A)"},
{"col": "Potential function", "r": 3, "t": "cytokine activity\nProliferation"}
]},
"layer": [
{"transform": [{"filter": "datum.r == 1"}], "mark": {"type": "text", "fontSize": 15.5, "fontWeight": "bold", "color": "#1a1a1a"},
"encoding": {
"x": {"field": "col", "type": "nominal", "scale": {"type": "point", "domain": ["Gene", "Potential function"], "padding": 0.547}, "axis": null},
"y": {"field": "r", "type": "quantitative", "scale": {"domain": [-1.07, 3.69], "reverse": true, "nice": false, "zero": false}, "axis": null},
"text": {"field": "t"}}},
{"transform": [{"filter": "datum.r > 1"}], "mark": {"type": "text", "fontSize": 15.5, "fontWeight": "bold", "lineBreak": "\n", "lineHeight": 18, "dy": -10, "color": "#1a1a1a"},
"encoding": {
"x": {"field": "col", "type": "nominal"},
"y": {"field": "r", "type": "quantitative"},
"text": {"field": "t"}}},
{"mark": {"type": "rule", "strokeWidth": 3, "color": "#111"}, "encoding": {"y": {"datum": 0.61, "type": "quantitative"}}},
{"mark": {"type": "rule", "strokeWidth": 3, "color": "#111"}, "encoding": {"y": {"datum": 3.61, "type": "quantitative"}}},
{"transform": [{"filter": "datum.r == 1 && datum.col == 'Gene'"}], "mark": {"type": "tick", "orient": "horizontal", "size": 142, "thickness": 3, "opacity": 1, "color": "#111"},
"encoding": {"x": {"field": "col", "type": "nominal"}, "y": {"datum": 1.37, "type": "quantitative"}}},
{"transform": [{"filter": "datum.r == 1 && datum.col == 'Potential function'"}], "mark": {"type": "tick", "orient": "horizontal", "size": 210, "thickness": 3, "opacity": 1, "color": "#111"},
"encoding": {"x": {"field": "col", "type": "nominal"}, "y": {"datum": 1.37, "type": "quantitative"}}}
]
},
{
"bounds": "flush", "spacing": 0,
"resolve": {"scale": {"color": "independent", "xOffset": "independent", "shape": "independent"}},
"vconcat": [
{
"width": 170, "height": 45,
"title": {"text": "(d)", "anchor": "start", "frame": "group", "dx": -35, "offset": -32},
"data": {"name": "dsig"},
"transform": [{"filter": "datum.lvl > 80"}],
"layer": [
{"mark": {"type": "rule", "strokeWidth": 4, "color": "#000"},
"encoding": {"x": {"field": "a", "type": "nominal", "scale": {"type": "point", "domain": ["Normal", "DCIS", "IDC"], "padding": 0.5}, "axis": null}, "x2": {"field": "b"},
"y": {"field": "lvl", "type": "quantitative", "scale": {"domain": [80, 100.45], "nice": false, "zero": false}, "axis": null}}},
{"transform": [{"filter": "datum.lab == '**'"}], "mark": {"type": "text", "fontSize": 16, "color": "#222", "baseline": "alphabetic", "dx": 28, "dy": 6},
"encoding": {"x": {"field": "a", "type": "nominal"}, "y": {"field": "lvl", "type": "quantitative"}, "text": {"field": "lab"}}},
{"transform": [{"filter": "datum.lab == '*'"}], "mark": {"type": "text", "fontSize": 16, "color": "#222", "baseline": "alphabetic", "dy": -1},
"encoding": {"x": {"datum": "DCIS", "type": "nominal"}, "y": {"field": "lvl", "type": "quantitative"}, "text": {"field": "lab"}}}
]
},
{
"width": 170, "height": 176,
"data": {"name": "d"},
"encoding": {"x": {"field": "c", "type": "nominal", "scale": {"type": "point", "domain": ["Normal", "DCIS", "IDC"], "padding": 0.5},
"axis": {"title": null, "labelAngle": -45, "labelAlign": "center", "labelBaseline": "middle", "labelFontSize": 15, "labelFontWeight": "normal", "labelLineHeight": 17, "labelOffset": -6, "labelPadding": 30, "tickSize": 5,
"labelExpr": "datum.label == 'Normal' ? ['Normal', '(n=8)'] : datum.label == 'DCIS' ? ['DCIS', '(n=5)'] : ['IDC', '(n=9)']"}}},
"layer": [
{"transform": [{"bin": {"step": 3.5}, "field": "v", "as": "b"}, {"window": [{"op": "row_number", "as": "k"}], "groupby": ["c", "b"]}],
"mark": {"type": "point", "filled": true, "size": 65, "opacity": 1, "color": "#000"},
"encoding": {
"y": {"field": "v", "type": "quantitative", "title": "INHBA(pg/ml)", "scale": {"domain": [0, 80], "nice": false}, "axis": {"values": [0, 20, 40, 60, 80], "labelOverlap": false, "titleFontSize": 19, "titleFontWeight": "normal", "titlePadding": 4, "labelFontSize": 16, "tickSize": 3, "labelPadding": 1}},
"xOffset": {"field": "k", "type": "ordinal", "scale": {"type": "point", "padding": 0, "domain": [9, 7, 5, 3, 1, 2, 4, 6, 8], "range": [-44, 44]}},
"shape": {"field": "c", "type": "nominal", "scale": {"domain": ["Normal", "DCIS", "IDC"], "range": ["circle", "square", "triangle-up"]}, "legend": null}}},
{"mark": {"type": "tick", "size": 36, "thickness": 3, "opacity": 1, "color": "#000"}, "encoding": {"y": {"aggregate": "mean", "field": "v", "type": "quantitative", "title": "INHBA(pg/ml)"}}},
{"mark": {"type": "errorbar", "extent": "stderr", "ticks": {"size": 20}, "thickness": 3, "color": "#000"}, "encoding": {"y": {"field": "v", "type": "quantitative", "title": "INHBA(pg/ml)"}}},
{"data": {"name": "dsig"}, "transform": [{"filter": "datum.lvl < 80"}], "mark": {"type": "rule", "strokeWidth": 4, "color": "#000"},
"encoding": {"x": {"field": "a", "type": "nominal"}, "x2": {"field": "b"}, "y": {"field": "lvl", "type": "quantitative", "title": "INHBA(pg/ml)"}}},
{"data": {"name": "dsig"}, "transform": [{"filter": "datum.lvl < 80"}], "mark": {"type": "text", "fontSize": 17, "color": "#222", "baseline": "alphabetic", "dx": 29, "dy": -4},
"encoding": {"x": {"field": "a", "type": "nominal"}, "y": {"field": "lvl", "type": "quantitative", "title": "INHBA(pg/ml)"}, "text": {"field": "lab"}}}
]
}
]
}
]
}
]
}
],
"config": {
"font": "Liberation Sans",
"view": {"stroke": null},
"title": {"fontSize": 27, "fontWeight": "bold", "color": "#1c1c28"},
"axis": {"domainColor": "#000", "domainWidth": 2.2, "tickColor": "#000", "tickWidth": 2, "tickSize": 4, "labelColor": "#222", "titleColor": "#222", "grid": false,
"labelFontWeight": "bold", "labelFontSize": 12.5, "titleFontWeight": "bold", "titleFontSize": 13, "labelPadding": 1, "titlePadding": 3, "labelLineHeight": 15, "labelOverlap": false}
}
}
